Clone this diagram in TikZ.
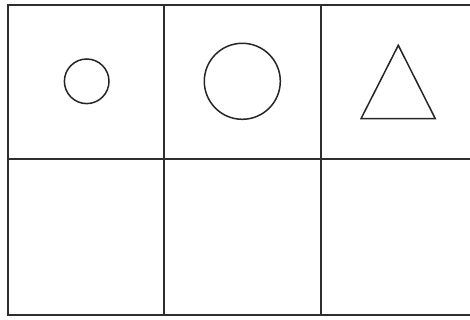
\documentclass[tikz,border=0pt]{standalone}
\begin{document}
\begin{tikzpicture}[x=1pt,y=-1pt,
  gridline/.style={draw=black!82,line width=1.8pt},
  shapeline/.style={draw=black!85,line width=1.5pt}]
\fill[white] (0,0) rectangle (470,320);
\useasboundingbox (0,0) rectangle (470,320);
\clip (0,0) rectangle (470,320);
% grid
\draw[gridline] (480,4.7) -- (8,4.7) -- (8,314.7) -- (480,314.7);
\draw[gridline] (8,159.3) -- (480,159.3);
\draw[gridline] (164.3,4.7) -- (164.3,314.7);
\draw[gridline] (321.3,4.7) -- (321.3,314.7);
% shapes
\draw[shapeline] (86.7,81.3) circle[radius=22.3];
\draw[shapeline] (242.3,81.3) circle[radius=38];
\draw[shapeline,line join=miter] (398.3,45.3) -- (435.3,118.7) -- (361,118.7) -- cycle;
\end{tikzpicture}
\end{document}
